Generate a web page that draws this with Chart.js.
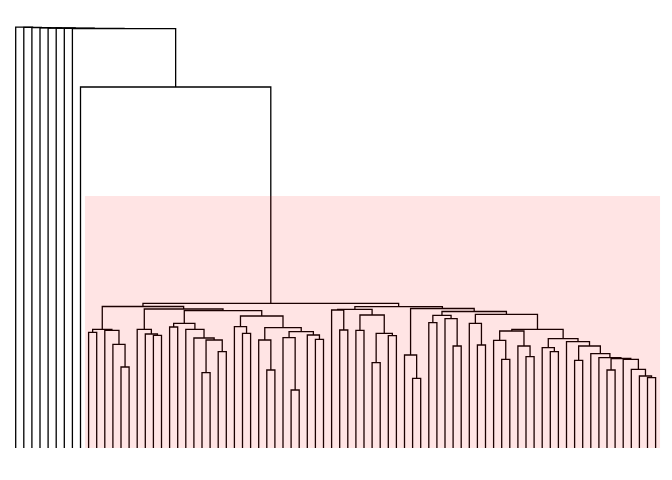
<!DOCTYPE html>
<html>
<head>
<meta charset="utf-8">
<script src="https://cdn.jsdelivr.net/npm/chart.js@4/dist/chart.umd.min.js"></script>
<style>html,body{margin:0;padding:0;background:#fff;}canvas{display:block;}</style>
</head>
<body>
<canvas id="c" width="672" height="480"></canvas>
<script>
// Hierarchical clustering (R-style merge matrix): negative = leaf -(position+1), positive = earlier merge step
const mergeLeft  = [-14,-13,-12,-10,4,-18,-17,-16,-20,-24,-26,10,-23,-22,9,-29,-28,-32,-31,-35,-34,-38,-37,21,19,17,15,8,5,
                    -41,-40,-43,-45,-47,33,32,31,-50,-49,-52,-55,-54,40,-58,-57,-61,-60,-64,-63,47,-67,-66,-79,-78,-77,-76,-74,57,-73,-72,-70,61,-69,52,50,45,43,39,37,29,
                    -9,-8,-7,-6,-5,-4,-3,-2,-1];
const mergeRight = [-15,1,2,-11,3,-19,6,7,-21,-25,-27,11,12,13,14,-30,16,-33,18,-36,20,-39,22,23,24,25,26,27,28,
                    -42,30,-44,-46,-48,34,35,36,-51,38,-53,-56,41,42,-59,44,-62,46,-65,48,49,-68,51,-80,53,54,55,-75,56,58,59,-71,60,62,63,64,65,66,67,68,69,
                    70,71,72,73,74,75,76,77,78];
const mergeHeight = [81,103.7,117.7,115.7,118.7,112.7,114,118.7,121,75.3,96.3,108,110,118.7,124.7,114.7,121.3,78,108,58,110.3,108.7,113,116.3,120.3,132,137.3,139,141.5,
                    118,138,117.7,85.3,112.3,114.7,133,138.7,69.7,93,125.3,102,129.3,132.7,103,124.7,88.7,107.7,91.3,102,117,96.3,100.3,70.3,72,78.7,88.7,78,89.5,90.3,94.3,87.7,102,106.3,109.3,118.7,133.7,136.5,139.5,141.3,144.7,
                    361,419.4,419.6,419.8,420,420.2,420.4,420.6,420.8];
const leafCount = 80;
// highlighted cluster box (leaf-position units / height units)
const boxLeaf = [8.55, 79.55];
const boxHeight = 252;

// build segments through the merge structure
const nodeX = [], nodeH = [];
function childPos(c){
  if (c < 0) return {x: -c - 1, h: 0};
  return {x: nodeX[c - 1], h: nodeH[c - 1]};
}
const datasets = [];
for (let k = 0; k < mergeLeft.length; k++){
  const a = childPos(mergeLeft[k]), b = childPos(mergeRight[k]);
  const H = mergeHeight[k];
  nodeX.push((a.x + b.x) / 2);
  nodeH.push(H);
  datasets.push({
    data: [{x: a.x, y: a.h}, {x: a.x, y: H}, {x: b.x, y: H}, {x: b.x, y: b.h}],
    showLine: true, pointRadius: 0, borderColor: '#000', borderWidth: 1.3,
    fill: false, tension: 0, clip: false
  });
}

const boxPlugin = {
  id: 'box',
  afterDatasetsDraw(chart){
    const {ctx, scales:{x, y}} = chart;
    const x0 = x.getPixelForValue(boxLeaf[0]), x1 = x.getPixelForValue(boxLeaf[1]);
    const y0 = y.getPixelForValue(boxHeight), y1 = y.getPixelForValue(0);
    ctx.save();
    ctx.fillStyle = 'rgba(255,0,0,0.105)';
    ctx.fillRect(x0, y0, x1 - x0, y1 - y0);
    ctx.restore();
  }
};

new Chart(document.getElementById('c'), {
  type: 'scatter',
  data: {datasets},
  options: {
    responsive: false,
    animation: false,
    layout: {padding: {left: 7.6, right: 8.3, top: 18, bottom: 32}},
    scales: {
      x: {type: 'linear', min: -1, max: leafCount, display: false},
      y: {type: 'linear', min: 0, max: 430, display: false}
    },
    plugins: {legend: {display: false}, tooltip: {enabled: false}}
  },
  plugins: [boxPlugin]
});
</script>
</body>
</html>
